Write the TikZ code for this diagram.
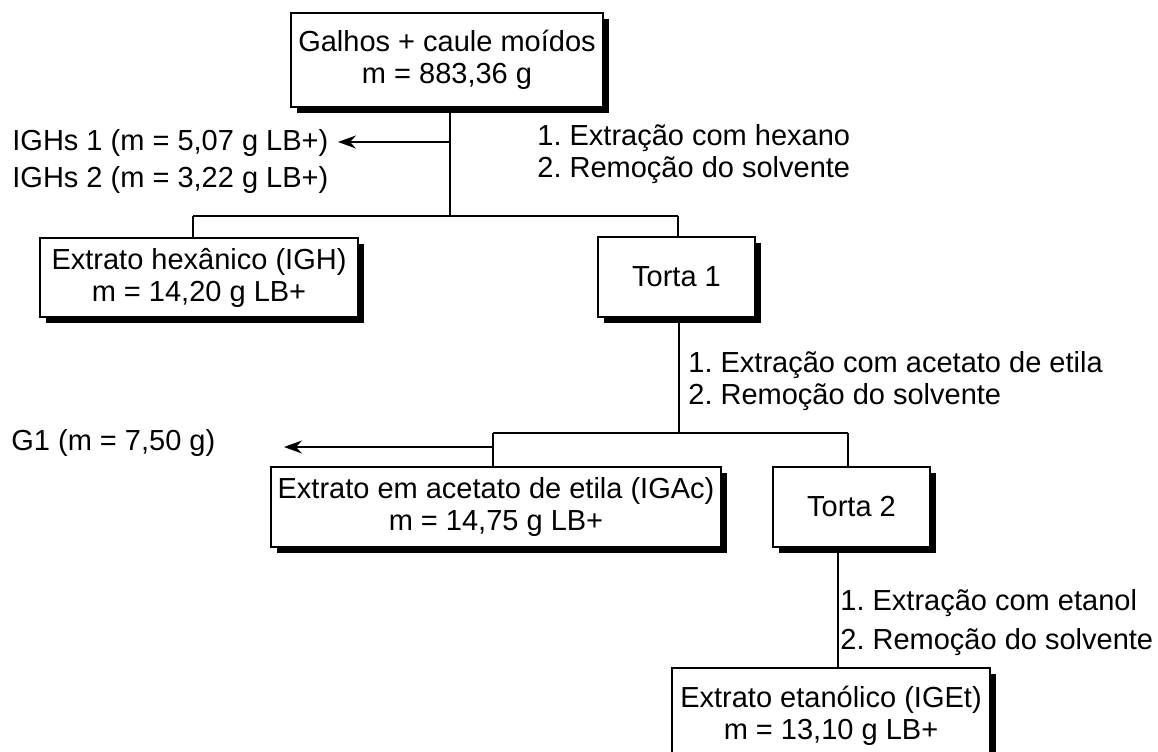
\documentclass[tikz,border=0pt]{standalone}
\usepackage{fontspec}
\setmainfont{Liberation Sans}
\usetikzlibrary{arrows.meta,shadows}
\frenchspacing
\begin{document}
\begin{tikzpicture}[x=0.5pt,y=-0.5pt,
  every node/.style={font=\fontsize{14.5}{16}\selectfont},
  box/.style={draw=black,line width=0.8pt,fill=white,inner sep=0pt,align=center,
    drop shadow={shadow xshift=3pt,shadow yshift=-3pt,fill=black,opacity=1}},
  lbl/.style={anchor=west,inner sep=0pt,align=left},
  conn/.style={line width=0.9pt},
  arr/.style={line width=0.9pt,-{Stealth[length=9pt,width=6.5pt,inset=3pt]}}]
\clip (0,0) rectangle (1158,751);
\useasboundingbox (0,0) rectangle (1158,751);
\fill[white] (0,0) rectangle (1158,751);

% boxes
\node[box,minimum width=156pt,minimum height=47pt] (top) at (447,60) {Galhos + caule moídos\\m = 883,36 g};
\node[box,minimum width=159pt,minimum height=39.5pt] (igh) at (199,277.5) {Extrato hexânico (IGH)\\m = 14,20 g LB+};
\node[box,minimum width=78.5pt,minimum height=40pt] (t1) at (676.5,277) {\raisebox{-4pt}{Torta 1}};
\node[box,minimum width=225pt,minimum height=40pt] (igac) at (496,507) {Extrato em acetato de etila (IGAc)\\m = 14,75 g LB+};
\node[box,minimum width=78.5pt,minimum height=40pt] (t2) at (851.5,507) {\raisebox{-4pt}{Torta 2}};
\node[box,minimum width=159pt,minimum height=48pt] (iget) at (831,716) {Extrato etanólico (IGEt)\\m = 13,10 g LB+};

% labels
\node[lbl,font=\fontsize{14.5}{18.5}\selectfont] (ighs) at (12,161.5) {IGHs 1 (m = 5,07 g LB+)\\IGHs 2 (m = 3,22 g LB+)};
\node[lbl] (hex) at (537,154) {1. Extração com hexano\\2. Remoção do solvente};
\node[lbl] (g1) at (11,443) {G1 (m = 7,50 g)};
\node[lbl] (ace) at (688,381) {1. Extração com acetato de etila\\2. Remoção do solvente};
\node[lbl,font=\fontsize{14.5}{19.5}\selectfont] (eta) at (840,622.5) {1. Extração com etanol\\2. Remoção do solvente};

% connector points
\coordinate (j1) at (450,216);
\coordinate (b1L) at (193,216);
\coordinate (b1R) at (678,216);
\coordinate (a1) at (450,142);
\coordinate (tip1) at (338,142);
\coordinate (j2) at (679,433);
\coordinate (b2L) at (493,433);
\coordinate (b2R) at (848,433);
\coordinate (a2) at (493,447);
\coordinate (tip2) at (284,447);
\coordinate (j3) at (838,600);

% connectors
\draw[conn] (top.south -| j1) -- (j1);
\draw[conn] (b1L) -- (b1R);
\draw[conn] (b1L) -- (b1L |- igh.north);
\draw[conn] (b1R) -- (b1R |- t1.north);
\draw[arr] (a1) -- (tip1);
\draw[conn] (t1.south -| j2) -- (j2);
\draw[conn] (b2L) -- (b2R);
\draw[conn] (b2L) -- (b2L |- igac.north);
\draw[conn] (b2R) -- (b2R |- t2.north);
\draw[arr] (a2) -- (tip2);
\draw[conn] (t2.south -| j3) -- (iget.north -| j3);
\end{tikzpicture}
\end{document}
